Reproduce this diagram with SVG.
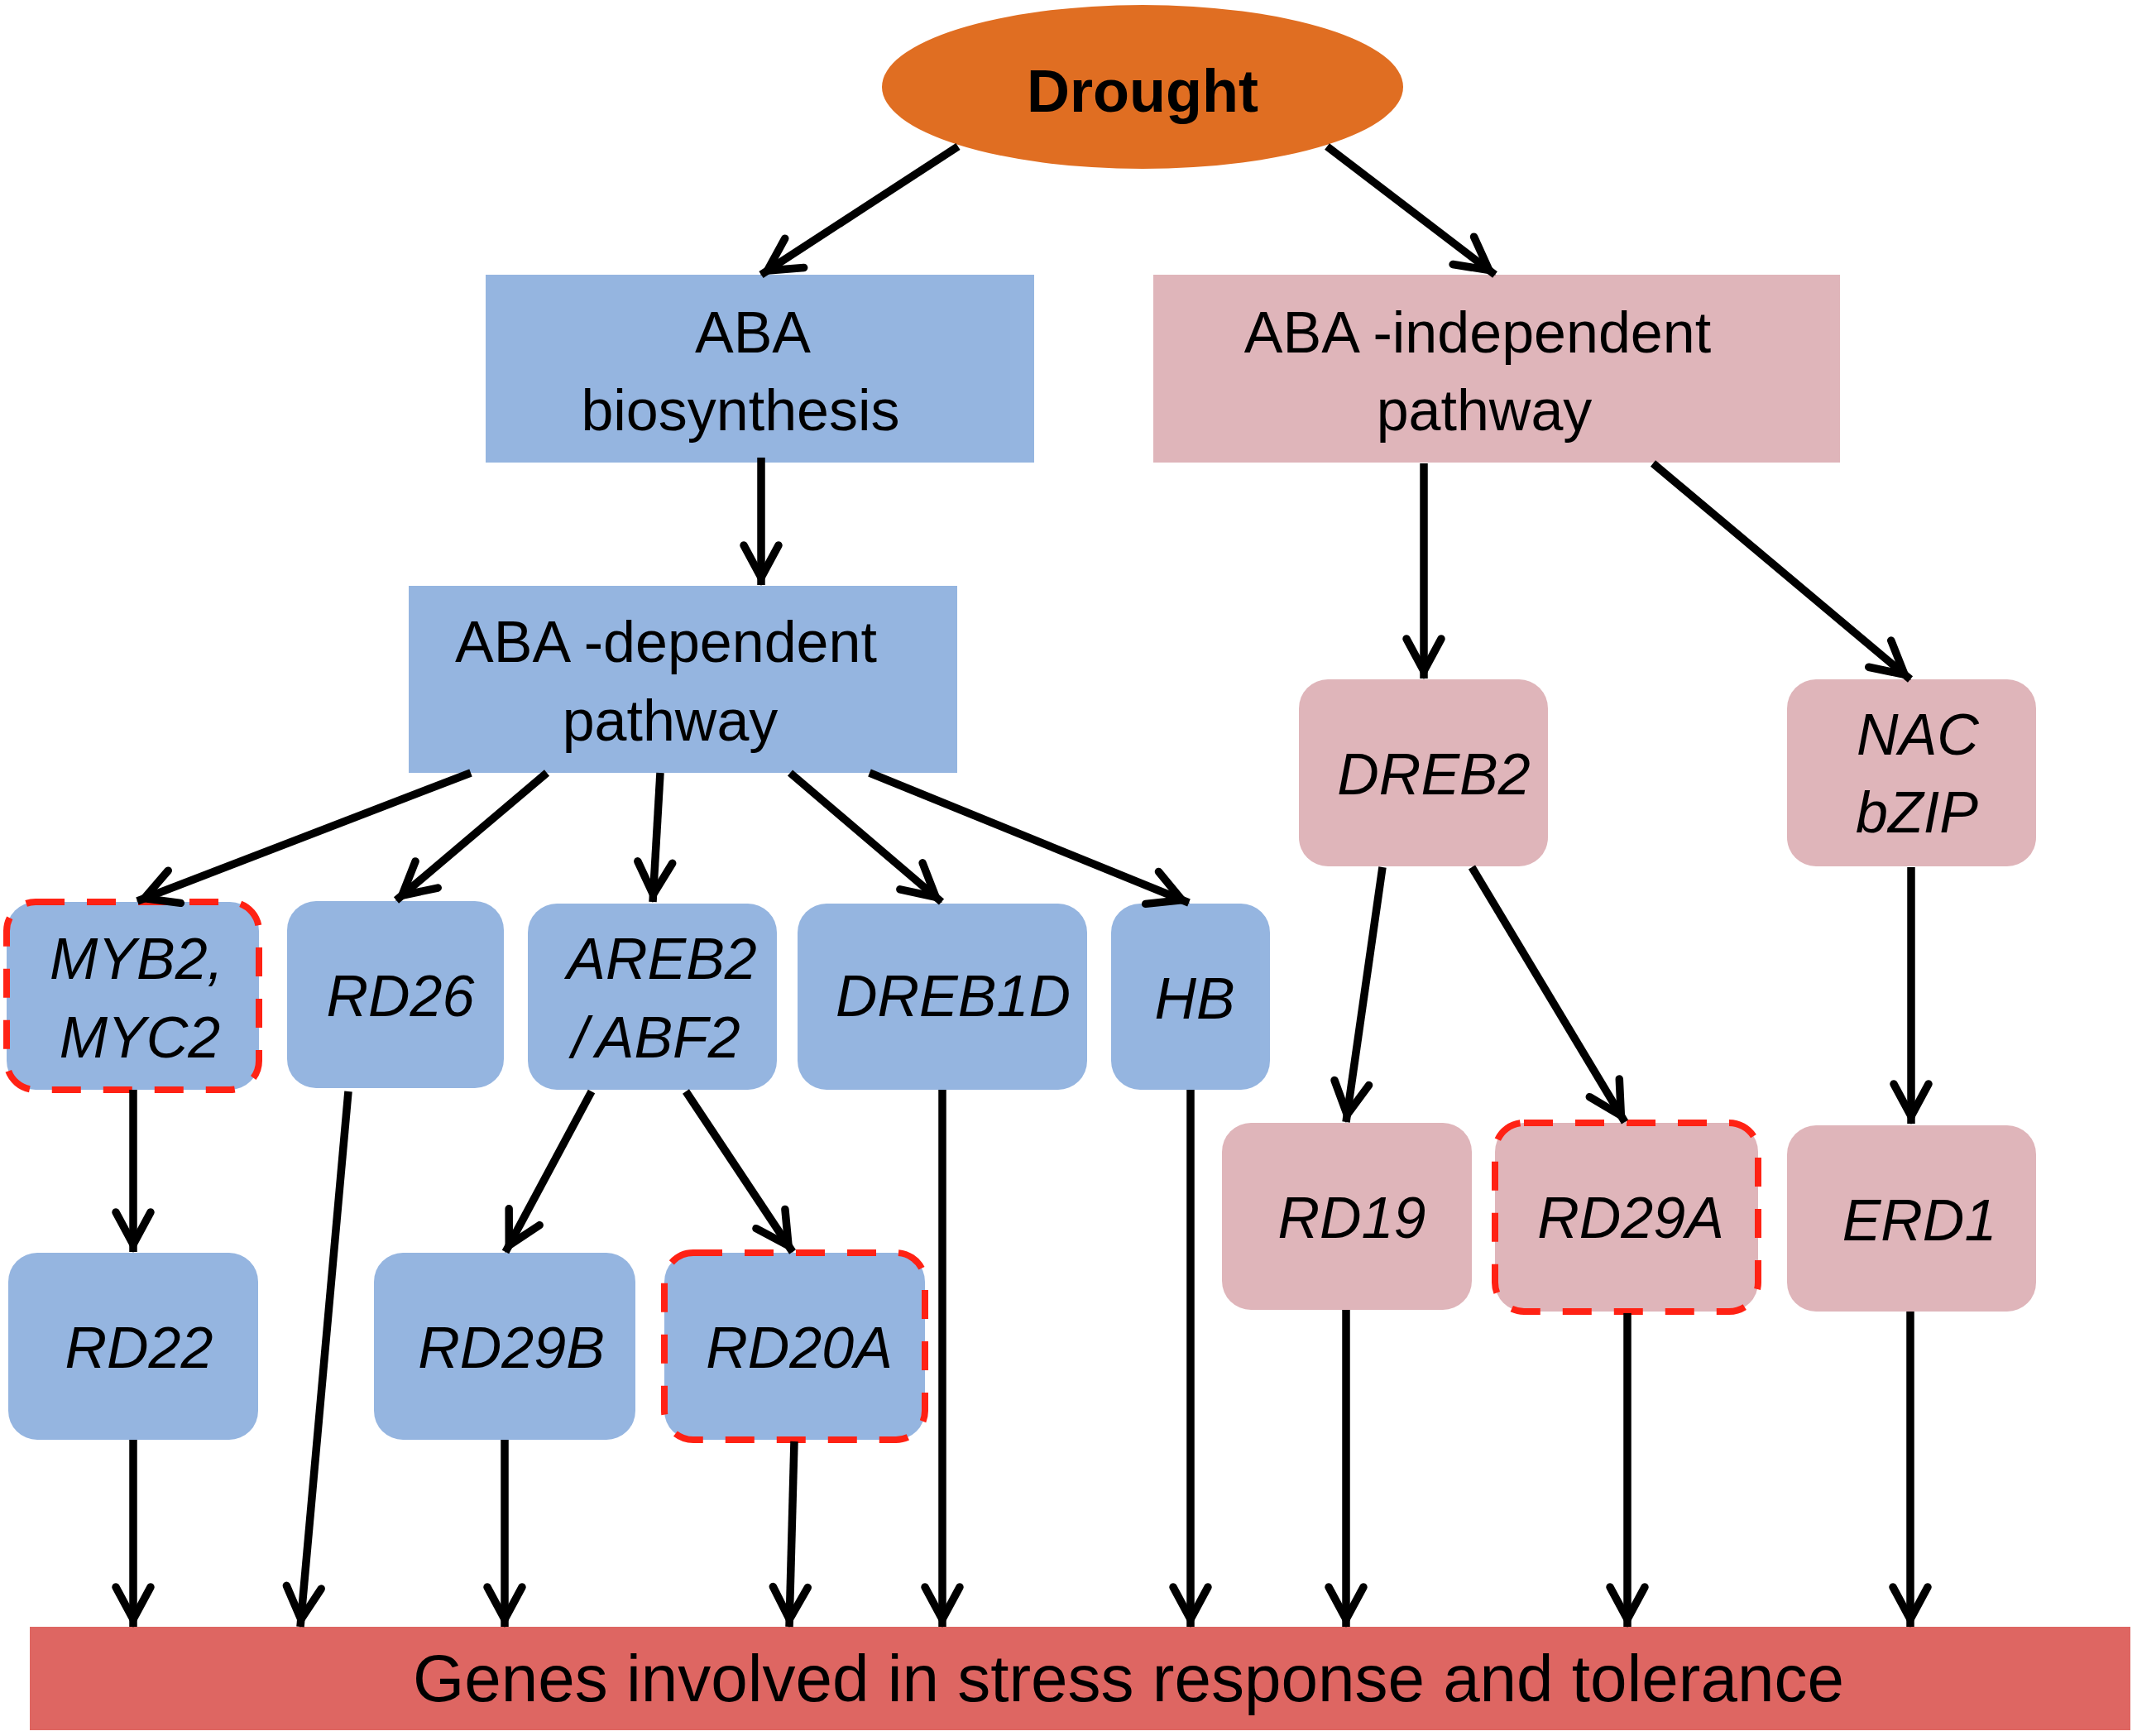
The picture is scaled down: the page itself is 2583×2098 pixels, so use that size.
<svg xmlns="http://www.w3.org/2000/svg" width="2583" height="2098" viewBox="0 0 2583 2098">
<style>
text{font-family:"Liberation Sans",Arial,sans-serif;font-size:70px;fill:#000;text-anchor:middle}
.it{font-style:italic}
.blue{fill:#95B5E0}
.pink{fill:#DFB5BA}
.dash{fill:none;stroke:#FF2214;stroke-width:8;stroke-dasharray:35 27}
.conn line{stroke:#000;stroke-width:9.5;marker-end:url(#arr)}
</style>
<defs>
<marker id="arr" markerUnits="userSpaceOnUse" markerWidth="70" markerHeight="60" viewBox="-60 -30 70 60" refX="0" refY="0" orient="auto" overflow="visible">
<path d="M-48 -21 L-9 0 L-48 21" fill="none" stroke="#000" stroke-width="9.5" stroke-linecap="round"/>
</marker>
</defs>
<rect width="2583" height="2098" fill="#fff"/>

<g id="drought">
<ellipse cx="1381" cy="105" rx="315" ry="99" fill="#E06E22"/>
<text x="1381" y="135" font-weight="bold" style="font-size:72px">Drought</text>
</g>
<g id="aba-biosynthesis">
<rect class="blue" x="587" y="332" width="663" height="227"/>
<text x="910" y="426">ABA</text>
<text x="895" y="520">biosynthesis</text>
</g>
<g id="aba-independent">
<rect class="pink" x="1394" y="332" width="830" height="227"/>
<text x="1786" y="426">ABA -independent</text>
<text x="1794" y="520">pathway</text>
</g>
<g id="aba-dependent">
<rect class="blue" x="494" y="708" width="663" height="226"/>
<text x="805" y="800">ABA -dependent</text>
<text x="810" y="895">pathway</text>
</g>
<g id="dreb2">
<rect class="pink" x="1570" y="821" width="301" height="226" rx="35"/>
<text class="it" x="1733" y="960">DREB2</text>
</g>
<g id="nac-bzip">
<rect class="pink" x="2160" y="821" width="301" height="226" rx="35"/>
<text class="it" x="2318" y="912">NAC</text>
<text class="it" x="2317" y="1006">bZIP</text>
</g>
<g id="myb2">
<rect class="blue" x="8" y="1090" width="305" height="227" rx="35"/>
<rect class="dash" x="8" y="1090" width="305" height="227" rx="35"/>
<text class="it" x="165" y="1183">MYB2,</text>
<text class="it" x="169" y="1278">MYC2</text>
</g>
<g id="rd26">
<rect class="blue" x="347" y="1089" width="262" height="226" rx="35"/>
<text class="it" x="484" y="1228">RD26</text>
</g>
<g id="areb2">
<rect class="blue" x="638" y="1092" width="301" height="225" rx="35"/>
<text class="it" x="800" y="1183">AREB2</text>
<text class="it" x="793" y="1278">/<tspan dx="9">ABF2</tspan></text>
</g>
<g id="dreb1d">
<rect class="blue" x="964" y="1092" width="350" height="225" rx="35"/>
<text class="it" x="1152" y="1228">DREB1D</text>
</g>
<g id="hb">
<rect class="blue" x="1343" y="1092" width="192" height="225" rx="35"/>
<text class="it" x="1444" y="1231">HB</text>
</g>
<g id="rd22">
<rect class="blue" x="10" y="1514" width="302" height="226" rx="35"/>
<text class="it" x="168" y="1653">RD22</text>
</g>
<g id="rd29b">
<rect class="blue" x="452" y="1514" width="316" height="226" rx="35"/>
<text class="it" x="618" y="1653">RD29B</text>
</g>
<g id="rd20a">
<rect class="blue" x="803" y="1514" width="315" height="226" rx="35"/>
<rect class="dash" x="803" y="1514" width="315" height="226" rx="35"/>
<text class="it" x="966" y="1653">RD20A</text>
</g>
<g id="rd19">
<rect class="pink" x="1477" y="1357" width="302" height="226" rx="35"/>
<text class="it" x="1634" y="1496">RD19</text>
</g>
<g id="rd29a">
<rect class="pink" x="1807" y="1357" width="318" height="228" rx="35"/>
<rect class="dash" x="1807" y="1357" width="318" height="228" rx="35"/>
<text class="it" x="1971" y="1496">RD29A</text>
</g>
<g id="erd1">
<rect class="pink" x="2160" y="1360" width="301" height="225" rx="35"/>
<text class="it" x="2320" y="1499">ERD1</text>
</g>
<g id="genes">
<rect x="36" y="1966" width="2539" height="125" fill="#DE6662"/>
<text x="1364" y="2056" style="font-size:80px">Genes involved in stress response and tolerance</text>
</g>

<g id="connectors" class="conn">
<line x1="1158" y1="177" x2="920" y2="332"/>
<line x1="1604" y1="177" x2="1807" y2="332"/>
<line x1="920" y1="553" x2="920" y2="707"/>
<line x1="1721" y1="560" x2="1721" y2="820"/>
<line x1="1998" y1="560" x2="2309" y2="821"/>
<line x1="569" y1="934" x2="166" y2="1089"/>
<line x1="661" y1="934" x2="479" y2="1088"/>
<line x1="798" y1="934" x2="789" y2="1090"/>
<line x1="955" y1="934" x2="1138" y2="1090"/>
<line x1="1051" y1="934" x2="1437" y2="1091"/>
<line x1="161" y1="1317" x2="161" y2="1513"/>
<line x1="715" y1="1319" x2="611" y2="1513"/>
<line x1="829" y1="1319" x2="958" y2="1513"/>
<line x1="1671" y1="1048" x2="1627" y2="1356"/>
<line x1="1779" y1="1048" x2="1964" y2="1356"/>
<line x1="2310" y1="1048" x2="2310" y2="1358"/>
<line x1="161" y1="1740" x2="161" y2="1966"/>
<line x1="421" y1="1319" x2="363" y2="1966"/>
<line x1="610" y1="1740" x2="610" y2="1966"/>
<line x1="960" y1="1742" x2="954" y2="1966"/>
<line x1="1139" y1="1317" x2="1139" y2="1966"/>
<line x1="1439" y1="1317" x2="1439" y2="1966"/>
<line x1="1627" y1="1583" x2="1627" y2="1966"/>
<line x1="1967" y1="1587" x2="1967" y2="1966"/>
<line x1="2309" y1="1585" x2="2309" y2="1966"/>
</g>
</svg>
